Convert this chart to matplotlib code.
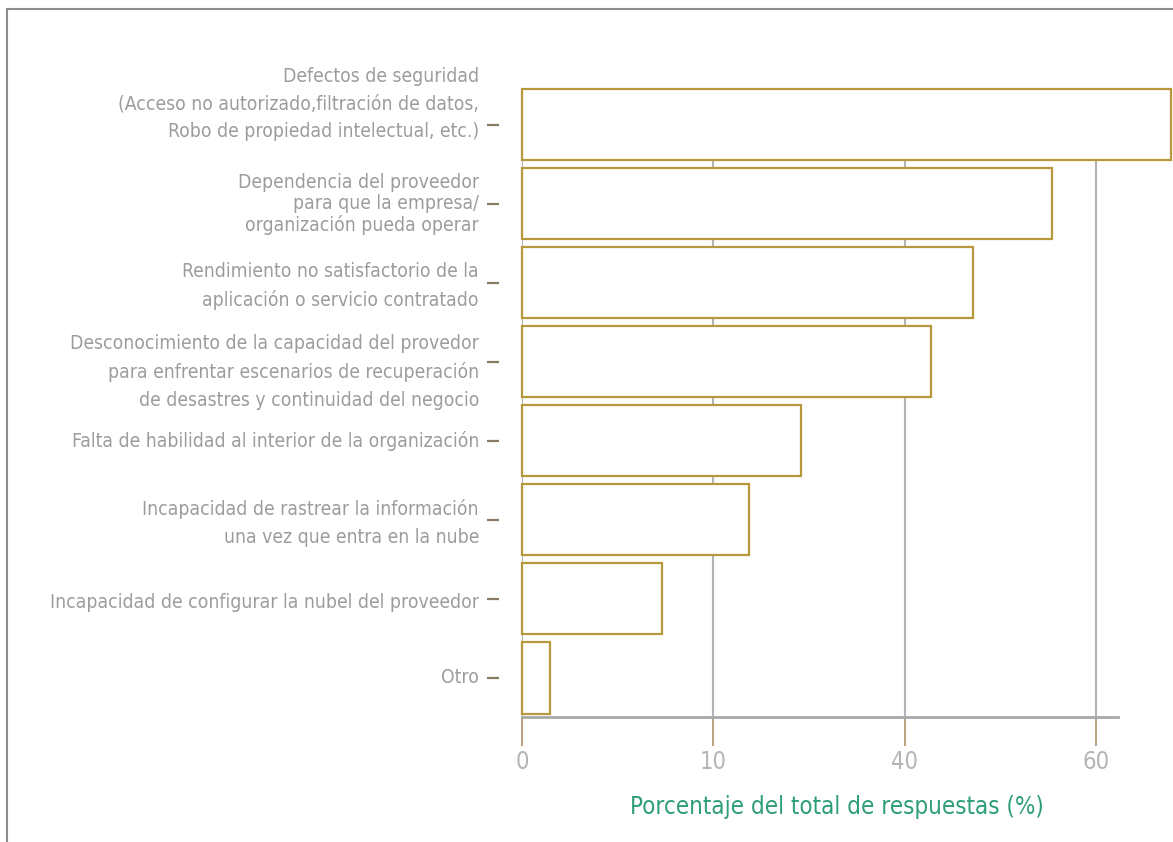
import os
import matplotlib
matplotlib.use('Agg')
import matplotlib.pyplot as plt
from matplotlib import font_manager as fm
from matplotlib.lines import Line2D

# ---------------- data ----------------
categories = [
    "Defectos de seguridad\n(Acceso no autorizado,filtración de datos,\nRobo de propiedad intelectual, etc.)",
    "Dependencia del proveedor\npara que la empresa/\norganización pueda operar",
    "Rendimiento no satisfactorio de la\naplicación o servicio contratado",
    "Desconocimiento de la capacidad del provedor\npara enfrentar escenarios de recuperación\nde desastres y continuidad del negocio",
    "Falta de habilidad al interior de la organización",
    "Incapacidad de rastrear la información\nuna vez que entra en la nube",
    "Incapacidad de configurar la nubel del proveedor",
    "Otro",
]
values = [67.8, 55.4, 47.1, 42.8, 29.2, 23.7, 14.6, 2.9]
tick_positions = [0, 20, 40, 60]
tick_labels = ['0', '10', '40', '60']
xlabel_text = 'Porcentaje del total de respuestas (%)'

# ---------------- font ----------------
def find_narrow():
    keys = [('liberationsansnarrow-regular', 0), ('dejavusanscondensed.ttf', 1),
            ('robotocondensed-regular', 2), ('opensanscondensed-regular', 3),
            ('opensans_condensed-regular', 3), ('notosans-condensed.ttf', 4),
            ('notosanscondensed-regular', 4)]
    best = None
    for f in fm.fontManager.ttflist:
        b = os.path.basename(f.fname).lower().replace(' ', '')
        for k, r in keys:
            if b.startswith(k) and (best is None or r < best[0]):
                best = (r, f.fname)
    if best:
        return best[1]
    return fm.findfont(fm.FontProperties(family='Liberation Sans'))

FONT = find_narrow()

def fp(size):
    return fm.FontProperties(fname=FONT, size=size)

# ---------------- figure ----------------
W, H = 1173, 842
fig = plt.figure(figsize=(W / 100, H / 100), dpi=100)
fig.patch.set_facecolor('white')
renderer = fig.canvas.get_renderer()

def fit_size(text, target_px, base=20.0):
    t = fig.text(0, 0, text, fontproperties=fp(base))
    w = t.get_window_extent(renderer).width
    t.remove()
    return base * target_px / w

def line_step(size):
    t1 = fig.text(0, 0, 'Ag', fontproperties=fp(size), linespacing=1.0)
    t2 = fig.text(0, 0, 'Ag\nAg', fontproperties=fp(size), linespacing=1.0)
    h = t2.get_window_extent(renderer).height - t1.get_window_extent(renderer).height
    t1.remove(); t2.remove()
    return h

ax_left, ax_right, ax_top, ax_bottom = 522, 1118, 89, 717
ax = fig.add_axes([ax_left / W, 1 - ax_bottom / H,
                   (ax_right - ax_left) / W, (ax_bottom - ax_top) / H])

idx = list(range(len(categories)))
bar_h = 0.9
ax.barh(idx, values, height=bar_h, color='white', edgecolor='#b8983c',
        linewidth=1.6, clip_on=False, zorder=3)
ax.set_ylim(len(values) - 1 + bar_h / 2 + 0.044, -bar_h / 2)
ax.set_xlim(0, 62.3)

ax.set_axisbelow(True)
ax.grid(axis='x', color='#b4b4b4', linewidth=1.5, zorder=0)
ax.grid(axis='y', visible=False)

for s in ['top', 'right', 'left']:
    ax.spines[s].set_visible(False)
ax.spines['bottom'].set_color('#a8a8a8')
ax.spines['bottom'].set_linewidth(2.0)
ax.spines['left'].set_position(('outward', 16.5))

# y ticks (short dashes), labels drawn separately
ax.set_yticks(idx)
ax.set_yticklabels([''] * len(idx))
ax.tick_params(axis='y', direction='out', length=8.6, width=1.6, color='#8a7c62')

# x ticks
ax.set_xticks(tick_positions)
xt_size = fit_size('60', 27)
ax.set_xticklabels(tick_labels, fontproperties=fp(xt_size))
ax.tick_params(axis='x', direction='out', length=21, width=1.2, pad=3,
               color='#b0906a', labelcolor='#b5b5b5')

# category labels
lab_size = fit_size('Incapacidad de configurar la nubel del proveedor', 428)
step = line_step(lab_size)
normal_ls = 30.0 / step
tight_ls = 21.5 / step
dy_px = [20.5, 0, -3.5, -10, 0, -3.5, -3.5, 0]
for i, lab in enumerate(categories):
    ax.annotate(lab, xy=(0, i), xycoords=('axes fraction', 'data'),
                xytext=(-43 * 0.72, dy_px[i] * 0.72), textcoords='offset points',
                ha='right', va='center', multialignment='right',
                fontproperties=fp(lab_size), color='#9c9c9c',
                linespacing=(tight_ls if i == 1 else normal_ls),
                annotation_clip=False)

# x label
xl_size = fit_size(xlabel_text, 411)
ax.set_xlabel(xlabel_text, fontproperties=fp(xl_size), color='#2e9e78')
ax.xaxis.set_label_coords((837 - ax_left) / (ax_right - ax_left),
                          -(807 - ax_bottom) / (ax_bottom - ax_top))
ax.xaxis.label.set_va('center')

# figure frame (top and left)
fig.add_artist(Line2D([7 / W, 7 / W], [0, 1 - 9 / H], transform=fig.transFigure,
                      color='#8c8c8c', linewidth=1.5))
fig.add_artist(Line2D([7 / W, 1], [1 - 9 / H, 1 - 9 / H], transform=fig.transFigure,
                      color='#8c8c8c', linewidth=1.5))

fig.savefig('out.png', dpi=100, facecolor='white')
